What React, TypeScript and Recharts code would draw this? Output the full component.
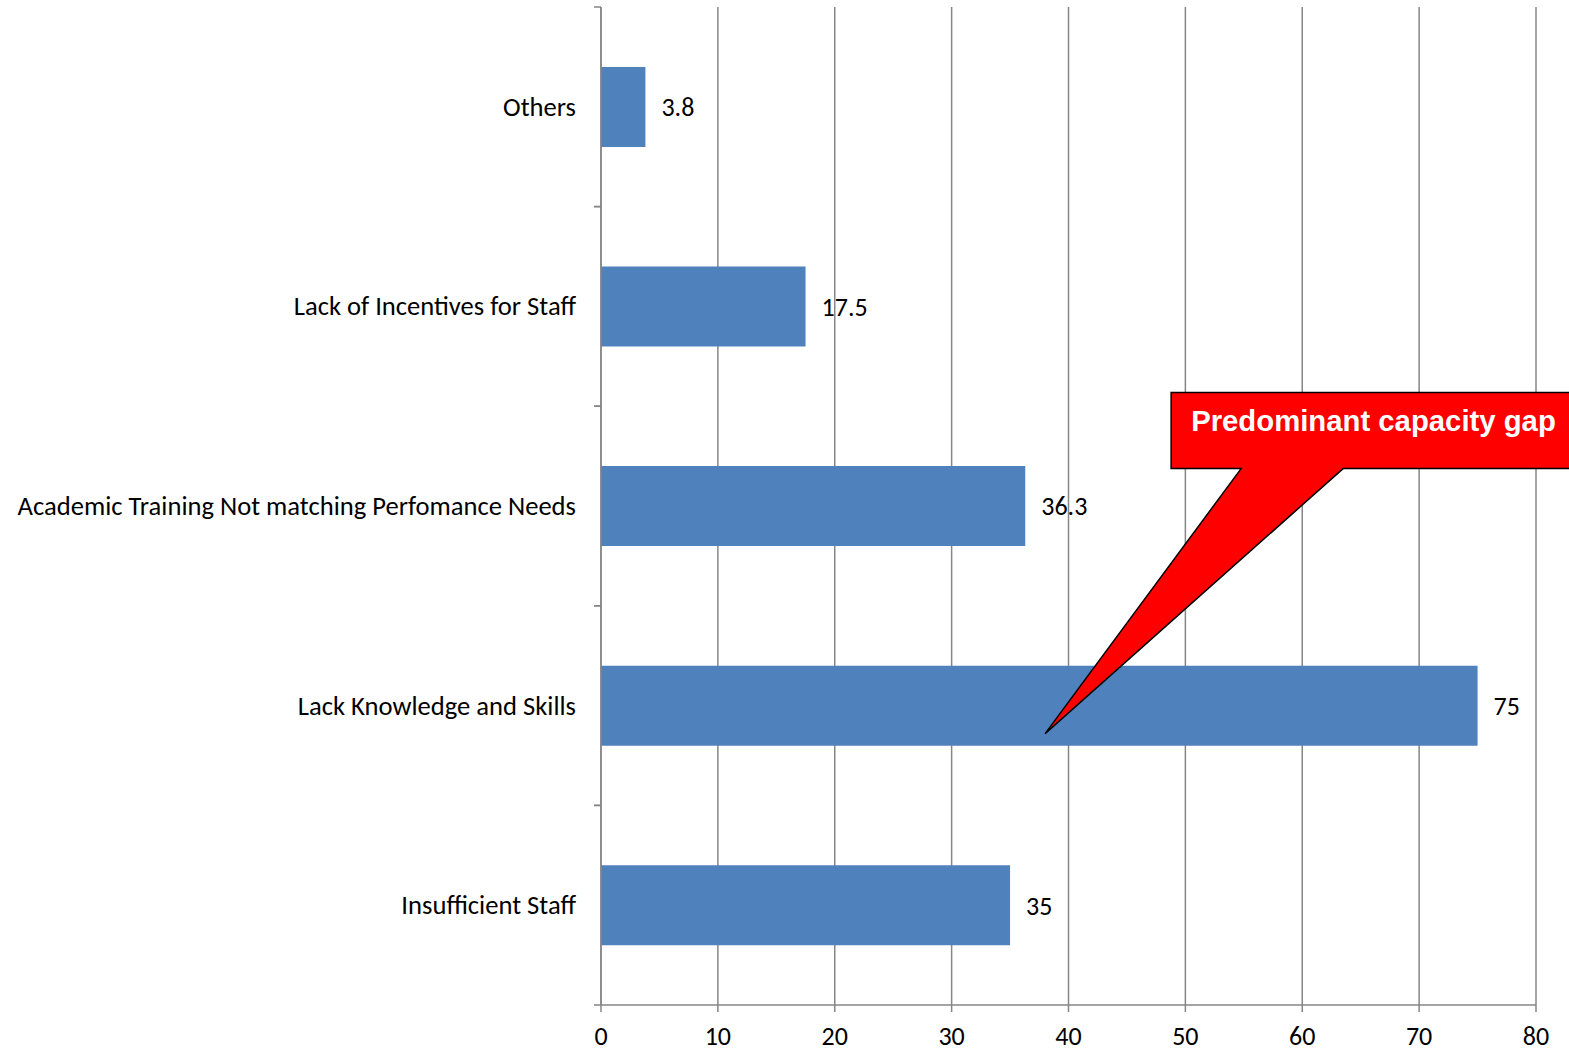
import { BarChart, Bar, XAxis, YAxis, CartesianGrid, LabelList, ReferenceDot } from 'recharts'

const categories = [
    'Others',
    'Lack of Incentives for Staff',
    'Academic Training Not matching Perfomance Needs',
    'Lack Knowledge and Skills',
    'Insufficient Staff',
]
const values = [3.8, 17.5, 36.3, 75, 35]
const xTicks = [0, 10, 20, 30, 40, 50, 60, 70, 80]
const calloutText = 'Predominant capacity gap'
const calloutTarget = { x: 38, category: 'Lack Knowledge and Skills' }

const data = categories.map((name, i) => ({ name, value: values[i] }))

const W = 1569
const H = 1052
const PLOT_LEFT = 601
const PLOT_TOP = 7
const PLOT_BOTTOM = 1005
const BAND = (PLOT_BOTTOM - PLOT_TOP) / categories.length
const AXIS = '#868686'
const FONT = 'Carlito, Lato, sans-serif'

function CategoryTick(props: any) {
    const { y, payload } = props
    return (
        <g>
            <line x1={PLOT_LEFT - 7} x2={PLOT_LEFT} y1={y - BAND / 2} y2={y - BAND / 2} stroke={AXIS} strokeWidth={1.5} />
            <line x1={PLOT_LEFT - 7} x2={PLOT_LEFT} y1={y + BAND / 2} y2={y + BAND / 2} stroke={AXIS} strokeWidth={1.5} />
            <text x={PLOT_LEFT - 25} y={y} textAnchor="end" dominantBaseline="central" fontSize={26.6} fontFamily={FONT} fill="#000">
                {payload.value}
            </text>
        </g>
    )
}

function Callout(props: any) {
    const { cx, cy } = props
    if (cx == null || cy == null) return null
    const top = cy - 313
    const bottom = cy - 237
    const left = cx + 126
    const right = cx + 560
    const pts = [
        [left, top],
        [right, top],
        [right, bottom],
        [cx + 298, bottom],
        [cx, cy + 28],
        [cx + 196, bottom],
        [left, bottom],
    ]
    return (
        <g>
            <polygon points={pts.map((p) => p.join(',')).join(' ')} fill="#ff0000" stroke="#000" strokeWidth={1.5} />
            <text x={cx + 146} y={(top + bottom) / 2 - 10} dominantBaseline="central" fill="#fff" fontSize={29.3} fontWeight="bold" fontFamily="'Liberation Sans', Arial, sans-serif">
                {calloutText}
            </text>
        </g>
    )
}

export default function App() {
    return (
        <div style={{ position: 'absolute', left: 0, top: 0, width: W, height: H, background: '#fff' }}>
            <BarChart
                width={W}
                height={H}
                data={data}
                layout="vertical"
                margin={{ top: PLOT_TOP, right: W - 1536, left: 0, bottom: 0 }}
                barCategoryGap="30%"
            >
                <CartesianGrid horizontal={false} stroke={AXIS} strokeWidth={1.5} />
                <XAxis
                    type="number"
                    domain={[0, 80]}
                    ticks={xTicks}
                    height={H - PLOT_BOTTOM}
                    stroke={AXIS}
                    strokeWidth={1.5}
                    tickSize={7}
                    tick={{ fill: '#000', fontSize: 26, fontFamily: FONT }}
                    tickMargin={15}
                />
                <YAxis
                    type="category"
                    dataKey="name"
                    width={PLOT_LEFT}
                    stroke={AXIS}
                    strokeWidth={1.5}
                    tickLine={false}
                    tick={<CategoryTick />}
                    interval={0}
                />
                <Bar dataKey="value" fill="#4F81BD" isAnimationActive={false}>
                    <LabelList dataKey="value" position="right" offset={16} fill="#000" fontSize={26} fontFamily={FONT} />
                </Bar>
                <ReferenceDot
                    x={calloutTarget.x}
                    y={calloutTarget.category}
                    ifOverflow="visible"
                    shape={<Callout />}
                />
            </BarChart>
        </div>
    )
}
